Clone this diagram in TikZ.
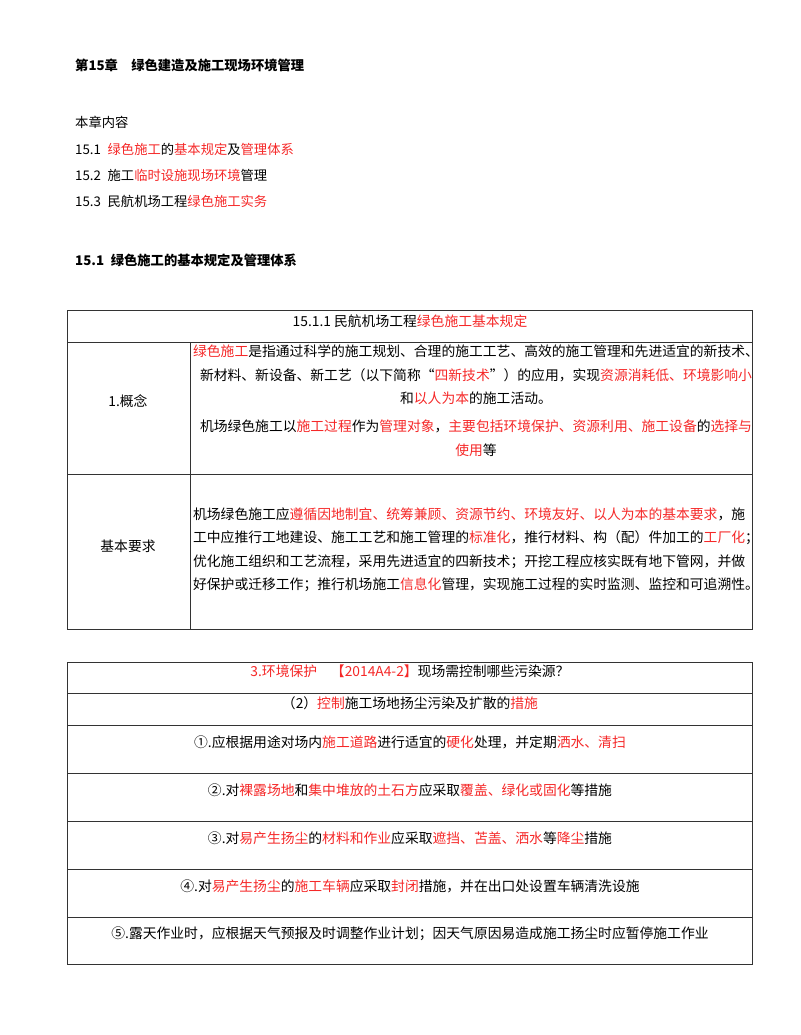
\documentclass[tikz,border=0pt]{standalone}
\usepackage{fontspec}
\setmainfont{Noto Sans CJK SC}
\usepackage{xcolor}
\usetikzlibrary{positioning}
\definecolor{hlred}{RGB}{245,40,40}
\newcommand{\hl}[1]{\textcolor{hlred}{#1}}
\XeTeXlinebreaklocale "zh"

\begin{document}
\begin{tikzpicture}[
            x = 1pt, y = -1pt,
            font = \fontsize{13.8}{23.5}\selectfont,
            every node/.style = {inner sep = 0pt}
        ]

        \tikzstyle{rule}=[draw = black!80, line width = 0.8pt]
        \tikzstyle{plain}=[anchor = west]
        \tikzstyle{cell}=[align = center]

        \useasboundingbox (0, 0) rectangle (800, 1035);

        % chapter heading and contents
        \node[plain, font = \fontsize{13.3}{15}\selectfont\bfseries] (chap) at (75, 65) {第15章\quad 绿色建造及施工现场环境管理};
        \node[plain, font = \fontsize{13.3}{15}\selectfont] (toc) at (75, 122) {本章内容};
        \node[plain, font = \fontsize{13.3}{15}\selectfont] (toc1) at (75, 149) {15.1\enspace \hl{绿色施工}的\hl{基本规定}及\hl{管理体系}};
        \node[plain, font = \fontsize{13.3}{15}\selectfont] (toc2) at (75, 175) {15.2\enspace 施工\hl{临时设施现场环境}管理};
        \node[plain, font = \fontsize{13.3}{15}\selectfont] (toc3) at (75, 201) {15.3\enspace 民航机场工程\hl{绿色施工实务}};
        \node[plain, font = \fontsize{13.3}{15}\selectfont\bfseries] (sec) at (75, 260) {15.1\enspace 绿色施工的基本规定及管理体系};

        % first table
        \draw[rule] (67, 310) rectangle (752, 629);
        \draw[rule] (67, 342) -- (752, 342);
        \draw[rule] (67, 474) -- (752, 474);
        \draw[rule] (190, 342) -- (190, 629);
        \node (head1) at (410, 321) {15.1.1 民航机场工程\hl{绿色施工基本规定}};
        \node (concept) at (128, 401) {1.概念};
        \node[cell] (conceptA) at (476, 375) {\hl{绿色施工}是指通过科学的施工规划、合理的施工工艺、高效的施工管理和先进适宜的新技术、\\
            新材料、新设备、新工艺（以下简称“\hl{四新技术}”）的应用，实现\hl{资源消耗低、环境影响小}\\
            和\hl{以人为本}的施工活动。};
        \node[cell] (conceptB) at (476, 438) {机场绿色施工以\hl{施工过程}作为\hl{管理对象}，\hl{主要包括环境保护、资源利用、施工设备}的\hl{选择与}\\
            \hl{使用}等};
        \node (basic) at (128, 546) {基本要求};
        \node[align = left] (basicA) at (476, 550) {机场绿色施工应\hl{遵循因地制宜、统筹兼顾、资源节约、环境友好、以人为本的基本要求}，施\\
            工中应推行工地建设、施工工艺和施工管理的\hl{标准化}，推行材料、构（配）件加工的\hl{工厂化}；\\
            优化施工组织和工艺流程，采用先进适宜的四新技术；开挖工程应核实既有地下管网，并做\\
            好保护或迁移工作；推行机场施工\hl{信息化}管理，实现施工过程的实时监测、监控和可追溯性。};

        % second table
        \draw[rule] (67, 662) rectangle (752, 964);
        \foreach \y in {693, 725, 773, 821, 869, 917}
            \draw[rule] (67, \y) -- (752, \y);
        \node (head2) at (410, 671) {\hl{3.环境保护\quad 【2014A4-2】}现场需控制哪些污染源？};
        \node (sub2) at (410, 703) {（2）\hl{控制}施工场地扬尘污染及扩散的\hl{措施}};
        \node (m1) at (410, 742) {①.应根据用途对场内\hl{施工道路}进行适宜的\hl{硬化}处理，并定期\hl{洒水、清扫}};
        \node (m2) at (410, 790) {②.对\hl{裸露场地}和\hl{集中堆放的土石方}应采取\hl{覆盖、绿化或固化}等措施};
        \node (m3) at (410, 838) {③.对\hl{易产生扬尘}的\hl{材料和作业}应采取\hl{遮挡、苫盖、洒水}等\hl{降尘}措施};
        \node (m4) at (410, 886) {④.对\hl{易产生扬尘}的\hl{施工车辆}应采取\hl{封闭}措施，并在出口处设置车辆清洗设施};
        \node (m5) at (410, 934) {⑤.露天作业时，应根据天气预报及时调整作业计划；因天气原因易造成施工扬尘时应暂停施工作业};
\end{tikzpicture}
\end{document}
